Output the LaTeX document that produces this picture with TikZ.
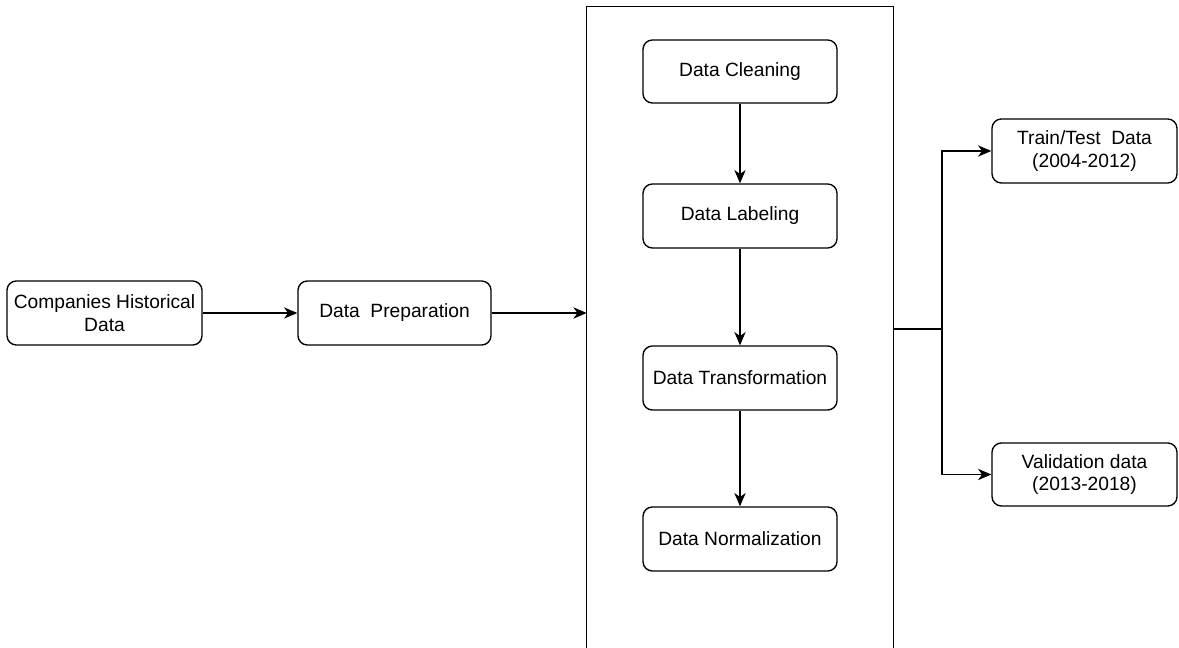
\documentclass[tikz,border=0pt]{standalone}
\usepackage{fontspec}
\setmainfont{Liberation Sans}
\usetikzlibrary{arrows.meta}
\begin{document}
\begin{tikzpicture}[x=0.75pt,y=-0.75pt,
  box/.style={draw, line width=1pt, rounded corners=7pt, align=center,
    font=\fontsize{14.4}{17}\selectfont, inner sep=0pt},
  conn/.style={line width=1pt, -{Stealth[length=10pt,width=8.5pt,inset=3pt]}},
  plain/.style={line width=1pt}]
\useasboundingbox (0,0) rectangle (1179,648);
\node[box, minimum width=195*0.75pt, minimum height=64*0.75pt] (comp) at (104.5,313) {Companies Historical\\Data};
\node[box, minimum width=193*0.75pt, minimum height=64*0.75pt] (prep) at (394.5,313) {Data~~Preparation};
\node[minimum width=306*0.75pt, minimum height=641*0.75pt, inner sep=0pt] (group) at (740,327.5) {};
\draw[plain] (group.south west) -- (group.north west) -- (group.north east) -- (group.south east);
\node[box, minimum width=194*0.75pt, minimum height=63*0.75pt] (clean) at (740,71.5) {Data Cleaning};
\node[box, minimum width=194*0.75pt, minimum height=64*0.75pt] (label) at (740,216) {Data Labeling};
\node[box, minimum width=194*0.75pt, minimum height=64*0.75pt] (trans) at (740,378) {Data Transformation};
\node[box, minimum width=194*0.75pt, minimum height=64*0.75pt] (norm) at (740,539) {Data Normalization};
\node[box, minimum width=185*0.75pt, minimum height=64*0.75pt] (train) at (1084.5,151) {Train/Test~~Data\\(2004-2012)};
\node[box, minimum width=185*0.75pt, minimum height=63*0.75pt] (valid) at (1084.5,474.5) {Validation data\\(2013-2018)};
\coordinate (out) at (893,329);
\coordinate (junc) at (942,329);
\draw[conn] (comp) -- (prep);
\draw[conn] (prep.east) -- (prep.east -| group.west);
\draw[conn] (clean) -- (label);
\draw[conn] (label) -- (trans);
\draw[conn] (trans) -- (norm);
\draw[plain] (out) -- (junc);
\draw[conn] (junc) |- (train.west);
\draw[conn] (junc) |- (valid.west);
\end{tikzpicture}
\end{document}
